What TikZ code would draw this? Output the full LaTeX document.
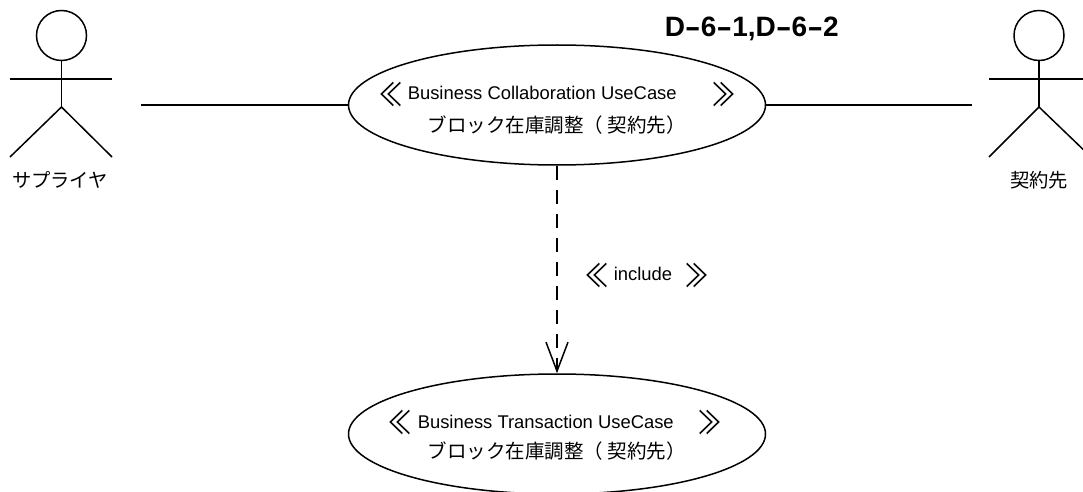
\documentclass[tikz,border=0pt]{standalone}
\usepackage{graphicx}
\usepackage{fontspec}
\setmainfont{Liberation Sans}
\newfontfamily\cjk{Noto Sans CJK JP}
\usetikzlibrary{arrows.meta, positioning}
\usetikzlibrary{shapes.geometric}
\newcommand{\lguil}{\scalebox{.72}[1]{≪}}
\newcommand{\rguil}{\scalebox{.72}[1]{≫}}
\newcommand{\widehy}{\scalebox{1.7}[1]{-}}

\begin{document}
\begin{tikzpicture}[
    x=1pt, y=-1pt,
    line width=1.5pt,
    usecase/.style={ellipse, draw, minimum width=417pt, minimum height=120pt, inner sep=0pt},
    actorhead/.style={circle, draw, minimum size=50pt, inner sep=0pt},
    caption/.style={font=\cjk\fontsize{19.3}{21}\selectfont, inner sep=0pt},
    stereo/.style={font=\fontsize{18.4}{20}\selectfont, inner sep=0pt, anchor=west},
    guil/.style={font=\cjk\fontsize{32}{34}\selectfont, inner sep=0pt},
    usename/.style={font=\cjk\fontsize{19.5}{21}\selectfont, inner sep=0pt, anchor=west}]
    \useasboundingbox (0,0) rectangle (1083,492);

    % use cases
    \node[usecase] (collab) at (557,105) {};
    \node[usecase] (trans) at (557,434) {};

    % left actor
    \node[actorhead] (headl) at (61.5,35.5) {};
    \coordinate (hipl) at (61.5,107);
    \draw (headl.south) -- (hipl);
    \draw (10,79) -- (112,79);
    \draw (10,157) -- (hipl) -- (112,157);
    \node[caption] (namel) at (60,180) {サプライヤ};

    % right actor
    \node[actorhead] (headr) at (1039,35.5) {};
    \coordinate (hipr) at (1039,107);
    \draw (headr.south) -- (hipr);
    \draw (989,79) -- (1091,79);
    \draw (989,157) -- (hipr) -- (1091,157);
    \node[caption] (namer) at (1039,180) {契約先};

    % connectors
    \coordinate (freel) at (141,105);
    \coordinate (freer) at (972,105);
    \draw (freel) -- (collab.west);
    \draw (collab.east) -- (freer);
    \draw[dash pattern=on 14pt off 10pt, -{Straight Barb[length=29pt,width=22pt]}] (collab.south) -- (trans.north);

    % labels
    \node[font=\fontsize{28}{30}\selectfont\bfseries, inner sep=0pt, anchor=west] (ref) at (664,29) {D\widehy 6\widehy 1,D\widehy 6\widehy 2};
    \node[guil] (lt1) at (391.5,94) {\lguil};
    \node[stereo] (st1) at (407,93) {Business Collaboration UseCase};
    \node[guil] (gt1) at (724,94) {\rguil};
    \node[usename] (nm1) at (427,125) {ブロック在庫調整（ 契約先）};
    \node[guil] (lt2) at (597,275) {\lguil};
    \node[stereo] (st2) at (613,274) {include};
    \node[guil] (gt2) at (697,275) {\rguil};
    \node[guil] (lt3) at (400,422) {\lguil};
    \node[stereo] (st3) at (417,422) {Business Transaction UseCase};
    \node[guil] (gt3) at (710.5,422) {\rguil};
    \node[usename] (nm2) at (427,451) {ブロック在庫調整（ 契約先）};
\end{tikzpicture}
\end{document}
